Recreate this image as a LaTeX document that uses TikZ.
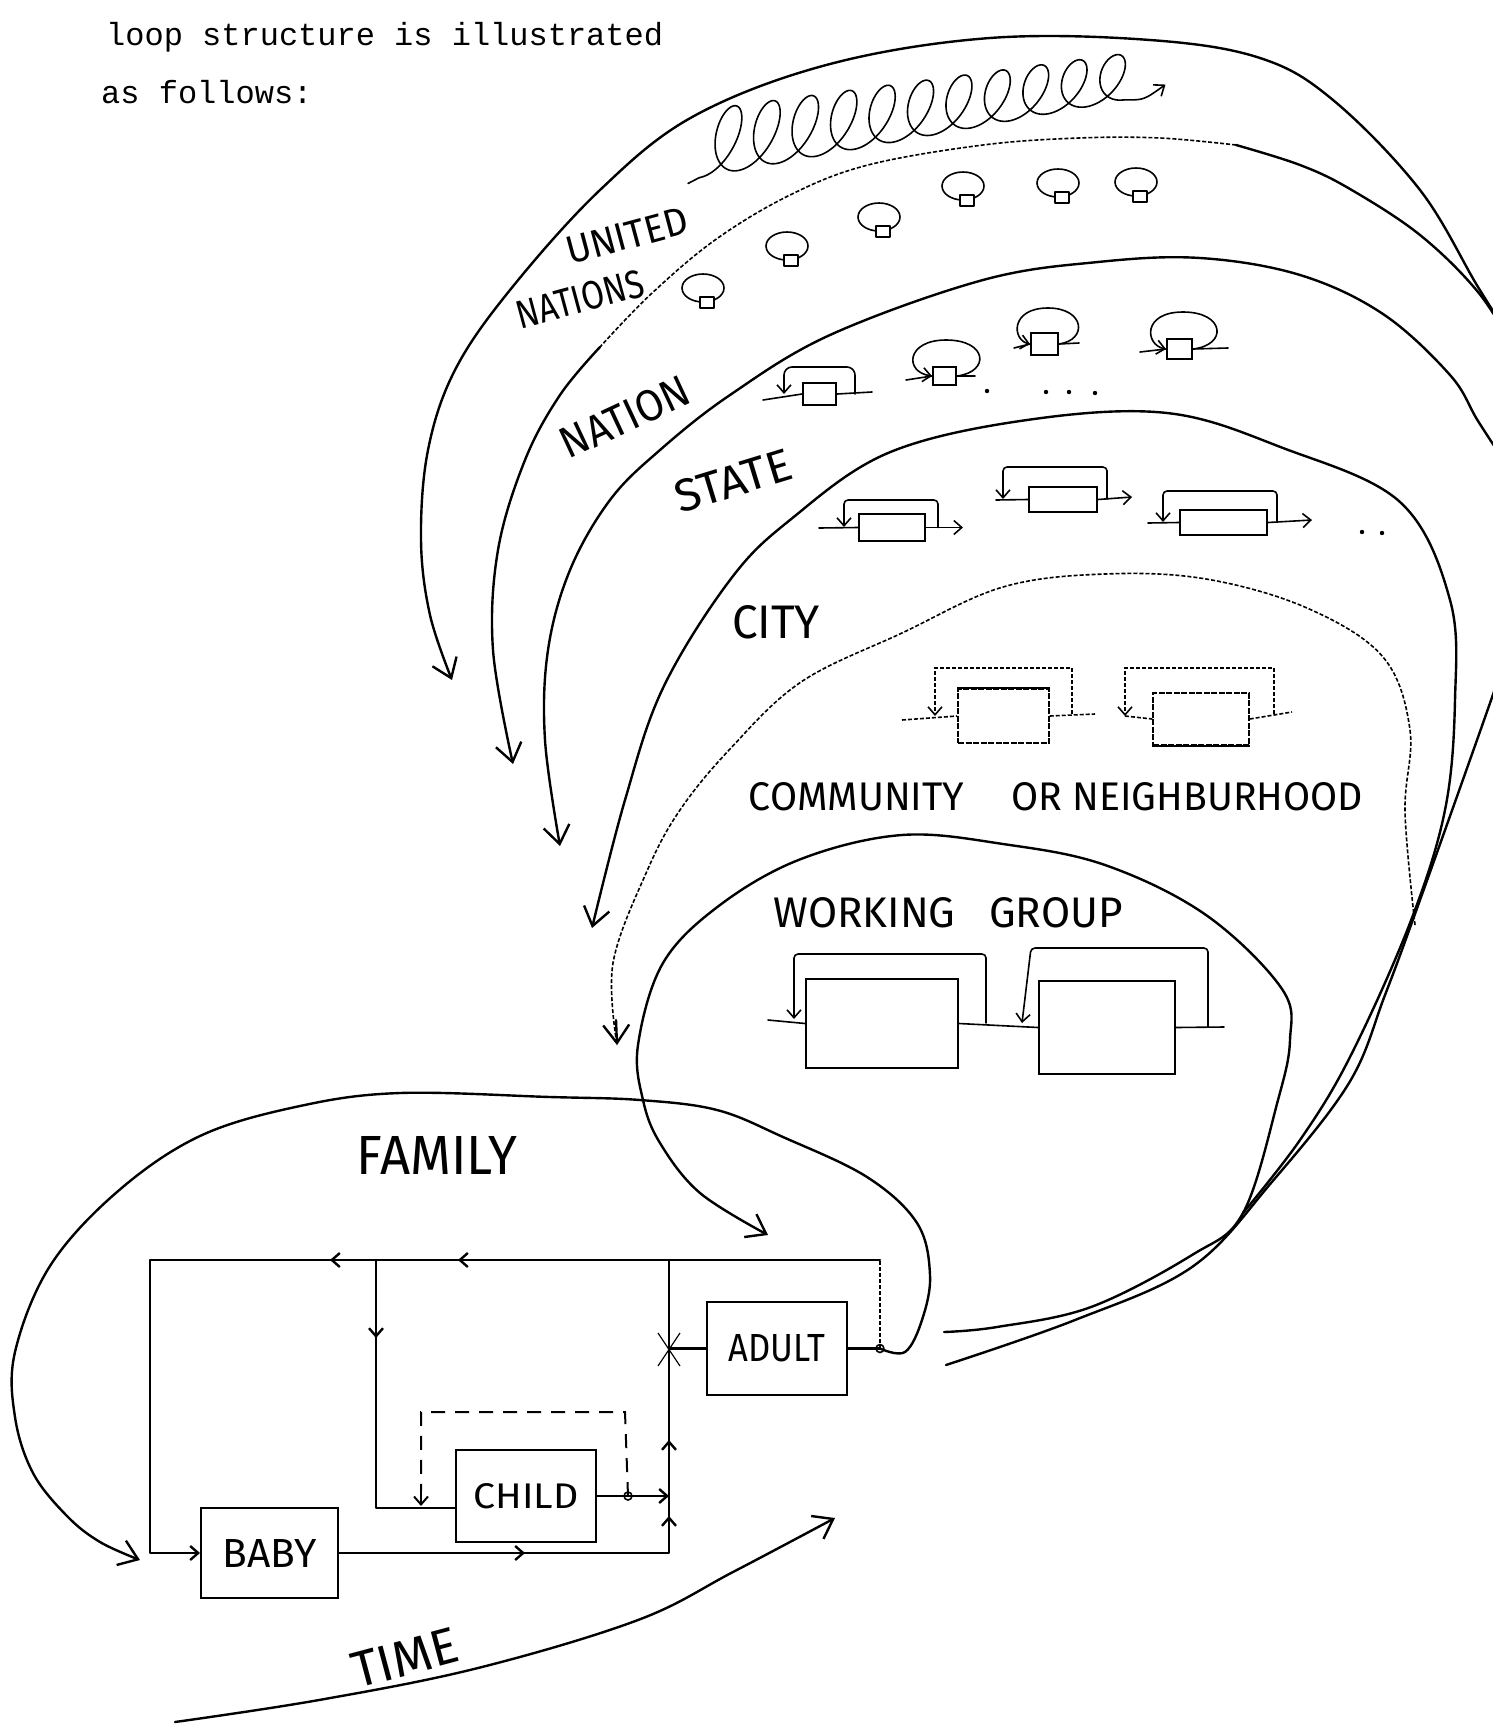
\documentclass[tikz,border=0pt]{standalone}
\usepackage{graphicx}
\usepackage{fontspec}
\usetikzlibrary{arrows.meta}
\setmonofont{Liberation Mono}
\newfontfamily\hand{Fira Sans}
\newcommand{\hw}[3]{\resizebox{#1pt}{#2pt}{\hand #3}}
\begin{document}
\begin{tikzpicture}[x=1pt,y=-1pt,
  ln/.style={line width=2.4pt, line cap=round, line join=round},
  thn/.style={line width=1.6pt, line cap=round, line join=round},
  pencil/.style={line width=1.6pt, dash pattern=on 4pt off 2pt},
  bigarrow/.style={-{Straight Barb[length=18pt,width=26pt]}},
  smarrow/.style={-{Straight Barb[length=8pt,width=14pt]}},
  lab/.style={inner sep=0pt, anchor=center},
  box/.style={draw, line width=2pt, inner sep=0pt, fill=white},
  lbox/.style={draw, line width=1.5pt, inner sep=0pt, dash pattern=on 6pt off 1.5pt},
  mush/.pic={\draw[thn] (0,0) ellipse [x radius=21, y radius=14];
             \draw[thn, fill=white] (-3,9) rectangle (11,20);},
]
\useasboundingbox (0,0) rectangle (1493,1727);
\clip (0,0) rectangle (1493,1727);

% ---------- typed text ----------
\node[anchor=base west, inner sep=0pt] (t1) at (106,45) {\fontsize{32}{36}\selectfont\ttfamily loop structure is illustrated};
\node[anchor=base west, inner sep=0pt] (t2) at (101,103) {\fontsize{32}{36}\selectfont\ttfamily as follows:};

% ---------- curve 1 (outermost) ----------
\draw[ln, bigarrow] plot[smooth, tension=0.6] coordinates {(1515,345) (1478,287) (1420,190) (1333,100) (1260,58) (1150,40) (990,38) (830,64) (694,116) (600,190) (510,290) (455,370) (428,450) (421,540) (430,615) (452,680)};

% ---------- curve 2 ----------
\draw[ln] plot[smooth, tension=0.6] coordinates {(1515,350) (1478,292) (1420,235) (1350,189) (1300,165) (1236,145)};
\draw[pencil] plot[smooth, tension=0.6] coordinates {(1236,145) (1160,138) (1079,138) (983,145) (868,165) (790,195) (715,240) (650,295) (600,347)};
\draw[ln, bigarrow] plot[smooth, tension=0.6] coordinates {(600,347) (560,395) (525,460) (498,550) (493,650) (513,764)};

% ---------- curve 3 ----------
\draw[ln, bigarrow] plot[smooth, tension=0.6] coordinates {(1510,470) (1478,421) (1450,375) (1383,314) (1300,275) (1200,258) (1098,262) (983,280) (830,335) (730,395) (660,450) (610,500) (570,570) (548,650) (545,740) (560,846)};

% ---------- curve 4 ----------
\draw[ln, bigarrow] plot[smooth, tension=0.6] coordinates {(1243,1213) (1300,1140) (1350,1057) (1410,923) (1445,810) (1455,700) (1450,600) (1400,502) (1283,448) (1167,413) (1027,420) (888,453) (790,520) (730,580) (663,688) (625,800) (592,928)};

% ---------- curve 5 (city, pencil) ----------
\draw[pencil] plot[smooth, tension=0.6] coordinates {(1415,925) (1405,812) (1410,730) (1383,657) (1307,608) (1206,579) (1105,574) (1003,587) (902,633) (801,682) (730,749) (680,810) (647,871) (613,963) (617,1045)};
\draw[ln, bigarrow] (616,1020) -- (617,1045);

% ---------- working group loop ----------
\draw[ln, bigarrow] plot[smooth, tension=0.6] coordinates {(944,1332) (997,1327) (1091,1307) (1192,1255) (1243,1213) (1278,1100) (1290,1040) (1282,989) (1206,915) (1105,865) (1003,844) (902,835) (801,859) (720,905) (663,963) (638,1045) (643,1100) (660,1143) (700,1193) (768,1235)};

% ---------- outer return curve ----------
\draw[ln] plot[smooth, tension=0.6] coordinates {(946,1365) (1075,1320) (1192,1267) (1271,1183) (1349,1083) (1385,995) (1420,900) (1477,740) (1505,660)};

% ---------- swirl ----------
\begin{scope}[shift={(707,143)}, rotate=9]
\draw[thn] plot[domain=0:69.1, samples=800, smooth] ({6.2*\x + 21*sin(\x r) - 0.4*(33-0.15*\x)*cos(\x r)}, {(33-0.15*\x)*cos(\x r)});
\draw[thn, -{Straight Barb[length=9pt,width=14pt]}] (419,22.6) .. controls (438,26) .. (462,14);
\draw[thn] (-25,37) -- (-13,33);
\end{scope}

% ---------- UN level loops ----------
\pic at (703,288) {mush};
\pic at (787,246) {mush};
\pic at (879,217) {mush};
\pic at (963,186) {mush};
\pic at (1058,183) {mush};
\pic at (1136,182) {mush};

% ---------- nation level ----------
\node[box, minimum width=33pt, minimum height=22pt] (n1) at (819.5,394) {};
\draw[thn] (763,400) -- (n1.west);
\draw[thn] (n1.east) -- (872,392);
\draw[thn, rounded corners=8, smarrow] (855,394) -- (855,367) -- (784,367) -- (784,394);
\node[box, minimum width=23pt, minimum height=18pt] (n2) at (944.5,376) {};
\draw[thn, smarrow] (n2.east) .. controls (990,372) and (988,340) .. (946,340) .. controls (906,340) and (904,372) .. (n2.west);
\draw[thn] (906,380) -- (n2.west);
\draw[thn] (n2.east) -- (975,376);
\node[box, minimum width=27pt, minimum height=22pt] (n3) at (1044.5,344) {};
\draw[thn, smarrow] (n3.east) .. controls (1088,340) and (1085,308) .. (1048,308) .. controls (1010,308) and (1012,340) .. (n3.west);
\draw[thn] (1014,348) -- (n3.west);
\draw[thn] (n3.east) -- (1079,343);
\node[box, minimum width=25pt, minimum height=20pt] (n4) at (1179.5,349) {};
\draw[thn, smarrow] (n4.east) .. controls (1228,345) and (1225,312) .. (1183,312) .. controls (1142,312) and (1145,345) .. (n4.west);
\draw[thn] (1140,352) -- (n4.west);
\draw[thn] (n4.east) -- (1228,348);
\foreach \px/\py in {987/391, 1046/392, 1069/392, 1095/393} \fill (\px,\py) circle (2.2);

% ---------- state level ----------
\node[box, minimum width=66pt, minimum height=27pt] (s1) at (892,527.5) {};
\draw[thn] (819,528) -- (s1.west);
\draw[thn, smarrow] (s1.east) -- (963,527.5);
\draw[thn, rounded corners=4, smarrow] (938,527.5) -- (938,500) -- (844,500) -- (844,527);
\node[box, minimum width=68pt, minimum height=25pt] (s2) at (1063,499.5) {};
\draw[thn] (996,500) -- (s2.west);
\draw[thn, smarrow] (s2.east) -- (1132,497);
\draw[thn, rounded corners=4, smarrow] (1107,499) -- (1107,467) -- (1003,467) -- (1003,499);
\node[box, minimum width=87pt, minimum height=25pt] (s3) at (1223.5,522.5) {};
\draw[thn] (1148,523) -- (s3.west);
\draw[thn, smarrow] (s3.east) -- (1312,520);
\draw[thn, rounded corners=4, smarrow] (1277,522) -- (1277,491) -- (1163,491) -- (1163,522);
\foreach \px/\py in {1362/532, 1382/533} \fill (\px,\py) circle (2.2);

% ---------- community level ----------
\node[lbox, minimum width=91pt, minimum height=54pt] (c1) at (1003.5,716) {};
\draw[line width=2pt] (c1.north west) -- (c1.north east);
\draw[pencil] (902,720) -- (c1.west);
\draw[pencil] (c1.east) -- (1095,714);
\draw[pencil, smarrow] (1072,714) -- (1072,668) -- (935,668) -- (935,716);
\node[lbox, minimum width=96pt, minimum height=52pt] (c2) at (1201,719) {};
\draw[line width=2pt] (c2.south west) -- (c2.south east);
\draw[pencil] (1125,716) -- (c2.west);
\draw[pencil] (c2.east) -- (1292,712);
\draw[pencil, smarrow] (1274,714) -- (1274,668) -- (1125,668) -- (1125,716);

% ---------- working group level ----------
\node[box, line width=1.8pt, minimum width=152pt, minimum height=89pt] (w1) at (882,1023.5) {};
\node[box, line width=1.8pt, minimum width=136pt, minimum height=93pt] (w2) at (1107,1027.5) {};
\draw[thn] (768,1020) -- (w1.west);
\draw[thn] (w1.east) -- (w2.west);
\draw[thn, rounded corners=4, smarrow] (986,1023) -- (986,954) -- (794,954) -- (794,1019);
\draw[thn, rounded corners=4, smarrow] (1208,1027) -- (1208,948) -- (1031,948) -- (1022,1023);
\draw[thn] (w2.east) -- (1224,1027);

% ---------- labels ----------
\node[lab, rotate=15] (un1) at (627,236) {\hw{125}{27}{UNITED}};
\node[lab, rotate=15] (un2) at (580,299) {\hw{130}{28}{NATIONS}};
\node[lab, rotate=25] (nat) at (625,417) {\hw{138}{31}{NATION}};
\node[lab, rotate=17] (sta) at (733,481) {\hw{120}{32}{STATE}};
\node[lab] (cit) at (776,622) {\hw{88}{33}{CITY}};
\node[lab] (com) at (1056,797) {\hw{614}{28}{COMMUNITY\hspace{1.2em}OR NEIGHBURHOOD}};
\node[lab] (wgl) at (948,913) {\hw{349}{30}{WORKING\hspace{0.8em}GROUP}};
\node[lab] (fam) at (437,1155) {\hw{160}{38}{FAMILY}};
\node[lab, rotate=15] (tim) at (405,1658) {\hw{108}{35}{TIME}};

% ---------- family ----------
\node[box, minimum width=137pt, minimum height=90pt] (baby) at (269.5,1553) {\hw{94}{28}{BABY}};
\node[box, minimum width=140pt, minimum height=92pt] (child) at (526,1496) {\hw{105}{25}{CHILD}};
\node[box, minimum width=140pt, minimum height=93pt] (adult) at (777,1348.5) {\hw{97}{27}{ADULT}};
\coordinate (lt) at (150,1260);
\coordinate (lb) at (150,1553);
\coordinate (mt) at (376,1260);
\coordinate (mb) at (376,1508);
\coordinate (rt) at (669,1260);
\coordinate (rb) at (669,1553);
\coordinate (rj) at (669,1348.5);
\coordinate (dt) at (880,1260);
\coordinate (dj) at (880,1348.5);
\coordinate (co) at (628,1496);

\draw[ln, smarrow] (dt) -- (lt) -- (lb) -- (baby.west);
\draw[ln] (mt) -- (mb) -- (child.west |- mb);
\draw[ln] (baby.east) -- (rb) -- (rt);
\draw[ln, smarrow] (child.east) -- (rj |- co);
\draw[ln] (rj) -- (adult.west);
\draw[ln] (adult.east) -- (dj);
\draw[pencil] (dj) -- (dt);
\draw[line width=2pt, dash pattern=on 14pt off 10pt] (co) -- (625,1412) -- (421,1412) -- (421,1490);
\draw[line width=2pt, smarrow] (421,1490) -- (421,1506);
\draw[thn] (co) circle (4);
\draw[thn] (dj) circle (4);
\draw[line width=1.2pt] (658,1333) -- (680,1366) (680,1333) -- (658,1366);
% direction marks
\draw[ln, smarrow] (345,1260) -- (330,1260);
\draw[ln, smarrow] (470,1260) -- (458,1260);
\draw[ln, smarrow] (376,1325) -- (376,1338);
\draw[ln, smarrow] (510,1553) -- (525,1553);
\draw[ln, smarrow] (669,1455) -- (669,1440);
\draw[ln, smarrow] (669,1530) -- (669,1516);

% family loop
\draw[ln, bigarrow] plot[smooth, tension=0.6] coordinates {(dj) (905,1352) (922,1320) (930,1275) (917,1223) (867,1177) (783,1137) (717,1110) (640,1100) (550,1097) (400,1093) (300,1106) (200,1136) (117,1192) (50,1266) (15,1352) (15,1417) (33,1473) (67,1516) (100,1542) (140,1560)};

% time arrow
\draw[ln, bigarrow] plot[smooth, tension=0.6] coordinates {(175,1722) (319,1700) (478,1668) (638,1620) (733,1572) (835,1518)};
\end{tikzpicture}
\end{document}
